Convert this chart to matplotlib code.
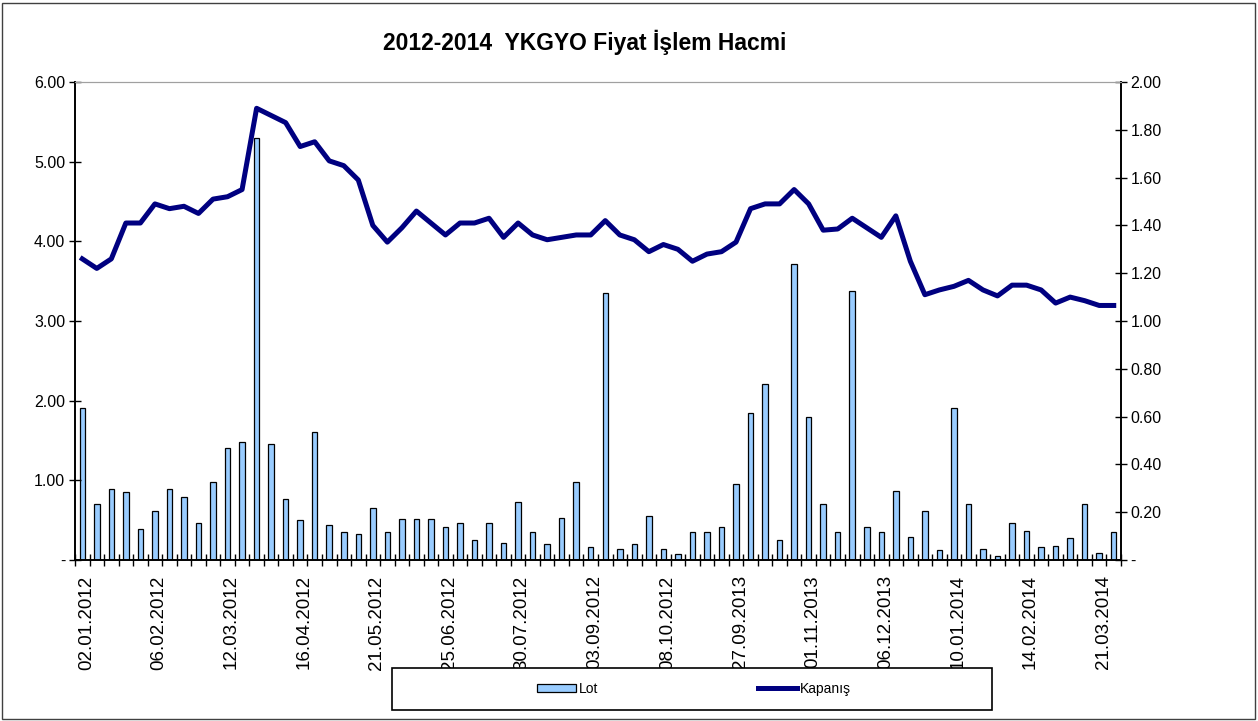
import numpy as np
import matplotlib
matplotlib.use("Agg")
import matplotlib.pyplot as plt
from matplotlib.patches import Rectangle
from matplotlib.ticker import FuncFormatter
from matplotlib.transforms import ScaledTranslation

plt.rcParams['font.family'] = ['Liberation Sans', 'DejaVu Sans']

# ── data ──────────────────────────────────────────────────────────────────
# weekly traded volume (Lot, left axis) and closing price (Kapanış, right axis)
lot = [1.91, 0.70, 0.89, 0.85, 0.39, 0.61, 0.89, 0.79, 0.46, 0.98,
       1.41, 1.48, 5.30, 1.45, 0.76, 0.50, 1.61, 0.44, 0.35, 0.33,
       0.65, 0.35, 0.52, 0.52, 0.52, 0.42, 0.46, 0.25, 0.46, 0.21,
       0.73, 0.35, 0.20, 0.53, 0.98, 0.16, 3.35, 0.14, 0.20, 0.55,
       0.14, 0.08, 0.35, 0.35, 0.41, 0.96, 1.84, 2.21, 0.25, 3.72,
       1.80, 0.70, 0.35, 3.38, 0.41, 0.35, 0.87, 0.29, 0.61, 0.13,
       1.91, 0.70, 0.14, 0.05, 0.46, 0.36, 0.16, 0.18, 0.27, 0.70,
       0.09, 0.35]

kapanis = [1.26, 1.22, 1.26, 1.41, 1.41, 1.49, 1.47, 1.48, 1.45, 1.51,
           1.52, 1.55, 1.89, 1.86, 1.83, 1.73, 1.75, 1.67, 1.65, 1.59,
           1.40, 1.33, 1.39, 1.46, 1.41, 1.36, 1.41, 1.41, 1.43, 1.35,
           1.41, 1.36, 1.34, 1.35, 1.36, 1.36, 1.42, 1.36, 1.34, 1.29,
           1.32, 1.30, 1.25, 1.28, 1.29, 1.33, 1.47, 1.49, 1.49, 1.55,
           1.49, 1.38, 1.385, 1.43, 1.39, 1.35, 1.44, 1.25, 1.11, 1.13,
           1.145, 1.17, 1.13, 1.105, 1.15, 1.15, 1.13, 1.075, 1.10, 1.085,
           1.065, 1.065]

date_labels = ["02.01.2012", "06.02.2012", "12.03.2012", "16.04.2012",
               "21.05.2012", "25.06.2012", "30.07.2012", "03.09.2012",
               "08.10.2012", "27.09.2013", "01.11.2013", "06.12.2013",
               "10.01.2014", "14.02.2014", "21.03.2014"]
label_step = 5

title = "2012-2014  YKGYO Fiyat İşlem Hacmi"

# ── figure ────────────────────────────────────────────────────────────────
W, H = 1258, 721
fig = plt.figure(figsize=(W / 100, H / 100), dpi=100)
ax = fig.add_axes([75 / W, 1 - 560 / H, (1121 - 75) / W, (560 - 82) / H])
ax2 = ax.twinx()

x = np.arange(len(lot))
ax.bar(x, lot, width=0.38, color='#99CCFF', edgecolor='black',
       linewidth=0.9, label='Lot')
ax2.plot(x, kapanis, color='#000080', linewidth=3.6,
         solid_joinstyle='round', label='Kapanış')

ax.set_xlim(-0.5, len(lot) - 0.5)
ax.set_ylim(0, 6)
ax2.set_ylim(0, 2)
ax.set_yticks(np.arange(0, 6.01, 1.0))
ax2.set_yticks(np.arange(0, 2.01, 0.2))
fmt = FuncFormatter(lambda v, _: '-' if abs(v) < 1e-9 else f'{v:.2f}')
ax.yaxis.set_major_formatter(fmt)
ax2.yaxis.set_major_formatter(fmt)

# category boundary ticks, labels every 5th category
ax.set_xticks(np.arange(-0.5, len(lot), 1.0))
ax.set_xticklabels([])
ax.set_xticks(np.arange(0, len(lot), label_step), date_labels, minor=True)
ax.tick_params(axis='x', which='major', direction='inout', length=9,
               width=1.0)
ax.tick_params(axis='x', which='minor', length=0, pad=11, labelsize=13.5,
               labelrotation=90)
shift = ScaledTranslation(4 / 100, 0, fig.dpi_scale_trans)
for lbl in ax.get_xticklabels(minor=True):
    lbl.set_transform(lbl.get_transform() + shift)
ax.tick_params(axis='y', direction='inout', length=8, width=1.0,
               labelsize=11.5, pad=3)
ax2.tick_params(axis='y', direction='inout', length=8, width=1.0,
                labelsize=11.5, pad=3)

for a in (ax, ax2):
    a.spines['top'].set_color('#a0a0a0')
    for s in ('left', 'right', 'bottom'):
        a.spines[s].set_color('black')
        a.spines[s].set_linewidth(1.2)

fig.text(585 / W, 1 - 42 / H, title, ha='center', va='center',
         fontsize=16.5, fontweight='bold')

# legend box below the axis, over the date labels
fig.patches.append(Rectangle((392 / W, 1 - 710 / H), 600 / W, 42 / H,
                             transform=fig.transFigure, facecolor='white',
                             edgecolor='black', linewidth=1.2, zorder=3))
handles = ax.get_legend_handles_labels()[0] + ax2.get_legend_handles_labels()[0]
leg = fig.legend(handles, ['Lot', 'Kapanış'], loc='center',
                 bbox_to_anchor=(694 / W, 1 - 689 / H), ncol=2,
                 frameon=False, fontsize=10, handlelength=2.8,
                 handleheight=0.55, handletextpad=0.2, columnspacing=11.5)
leg.set_zorder(4)

# outer chart border
fig.patches.append(Rectangle((2 / W, 2 / H), (W - 5) / W, (H - 5) / H,
                             transform=fig.transFigure, fill=False,
                             edgecolor='#404040', linewidth=1.0))

fig.savefig('out.png', dpi=100)
